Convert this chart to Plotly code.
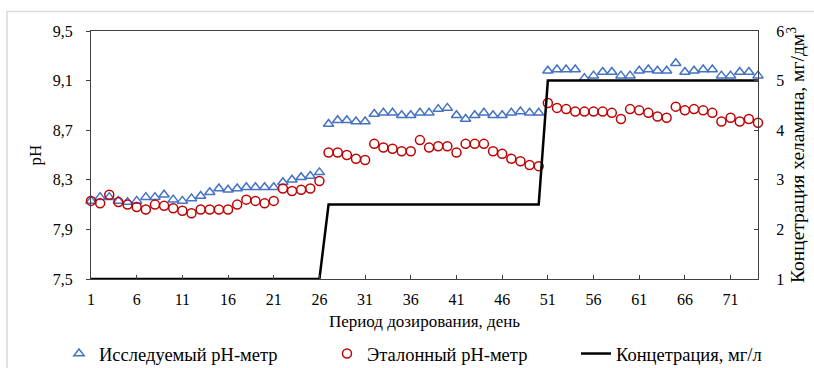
import plotly.graph_objects as go

days = list(range(1, 75))

ph_test = [
    8.13, 8.16, 8.16, 8.13, 8.12, 8.13, 8.16, 8.16, 8.18, 8.14,
    8.13, 8.15, 8.17, 8.20, 8.23, 8.22, 8.23, 8.24, 8.24, 8.24,
    8.24, 8.28, 8.30, 8.32, 8.33, 8.36, 8.75, 8.78, 8.78, 8.77,
    8.77, 8.83, 8.84, 8.84, 8.82, 8.82, 8.84, 8.84, 8.87, 8.88,
    8.82, 8.79, 8.82, 8.84, 8.82, 8.82, 8.84, 8.85, 8.84, 8.84,
    9.18, 9.19, 9.19, 9.19, 9.12, 9.14, 9.17, 9.17, 9.14, 9.14,
    9.18, 9.19, 9.18, 9.18, 9.24, 9.17, 9.18, 9.19, 9.19, 9.14,
    9.14, 9.17, 9.17, 9.14,
]

ph_ref = [
    8.13, 8.11, 8.18, 8.12, 8.10, 8.08, 8.06, 8.10, 8.09, 8.07,
    8.05, 8.03, 8.06, 8.06, 8.06, 8.06, 8.10, 8.14, 8.13, 8.11,
    8.13, 8.23, 8.21, 8.22, 8.23, 8.29, 8.52, 8.52, 8.50, 8.47,
    8.46, 8.59, 8.56, 8.55, 8.53, 8.53, 8.62, 8.56, 8.57, 8.57,
    8.52, 8.59, 8.59, 8.59, 8.53, 8.51, 8.47, 8.45, 8.42, 8.41,
    8.92, 8.88, 8.87, 8.85, 8.85, 8.85, 8.85, 8.84, 8.79, 8.87,
    8.86, 8.84, 8.81, 8.80, 8.89, 8.86, 8.87, 8.86, 8.84, 8.77,
    8.80, 8.77, 8.79, 8.76,
]

conc = [1.0] * 26 + [2.5] * 24 + [5.0] * 24

x_ticks = [1, 6, 11, 16, 21, 26, 31, 36, 41, 46, 51, 56, 61, 66, 71]
ph_ticks = [7.5, 7.9, 8.3, 8.7, 9.1, 9.5]
conc_ticks = [1, 2, 3, 4, 5, 6]

names = ["Исследуемый pH-метр", "Эталонный pH-метр", "Концетрация, мг/л"]
x_title = "Период дозирования, день"
y_title = "pH"
y2_title = "Концетрация хеламина, мг/дм<sup>3</sup>"

FONT = "Liberation Serif"
AX = "#404040"

fig = go.Figure()
fig.add_trace(go.Scatter(
    x=days, y=ph_test, mode="markers", name=names[0], legend="legend",
    marker=dict(symbol="triangle-up-open", size=9, color="#4472C4",
                line=dict(width=1.5, color="#4472C4")),
    cliponaxis=False, showlegend=True,
))
fig.add_trace(go.Scatter(
    x=days, y=ph_ref, mode="markers", name=names[1], legend="legend2",
    marker=dict(symbol="circle-open", size=9, color="#C00000",
                line=dict(width=1.5, color="#C00000")),
    cliponaxis=False, showlegend=True,
))
fig.add_trace(go.Scatter(
    x=days, y=conc, mode="lines", name=names[2], legend="legend3",
    yaxis="y2", line=dict(color="black", width=2.5),
    cliponaxis=False, showlegend=True,
))

W, H = 814, 368
legend_common = dict(
    orientation="h", xref="container", yref="container",
    yanchor="middle", y=1 - 354 / H, xanchor="left",
    font=dict(family=FONT, size=18.5, color="black"),
    bgcolor="rgba(0,0,0,0)", borderwidth=0, itemwidth=30, visible=True,
)

fig.update_layout(
    width=W, height=H,
    showlegend=True,
    margin=dict(l=91, r=56, t=31, b=89, autoexpand=False),
    paper_bgcolor="white", plot_bgcolor="white",
    separators=", ",
    font=dict(family=FONT, size=16, color="black"),
    xaxis=dict(
        range=[1, 74], tickvals=x_ticks, ticks="inside", ticklen=4,
        tickcolor=AX, showline=True, linecolor=AX, linewidth=1, mirror=True,
        showgrid=False, zeroline=False, ticklabelstandoff=6, automargin=False,
        title=dict(text=x_title, standoff=7, font=dict(size=17)),
        tickfont=dict(size=16),
    ),
    yaxis=dict(
        range=[7.5, 9.5], tickvals=ph_ticks, tickformat=".1f",
        ticks="outside", ticklen=4, tickcolor=AX,
        showline=True, linecolor=AX, linewidth=1, mirror=True,
        showgrid=False, zeroline=False, ticklabelstandoff=10, automargin=False,
        title=dict(text=y_title, standoff=6, font=dict(size=17)),
        tickfont=dict(size=16),
    ),
    yaxis2=dict(
        overlaying="y", side="right", range=[1, 6], tickvals=conc_ticks,
        ticks="inside", ticklen=4, tickcolor=AX,
        showline=True, linecolor=AX, linewidth=1,
        showgrid=False, zeroline=False, ticklabelstandoff=14, automargin=False,
        title=dict(text=y2_title, standoff=3, font=dict(size=19.5)),
        tickfont=dict(size=16),
    ),
    legend=dict(x=59 / W, **legend_common),
    legend2=dict(x=327 / W, **legend_common),
    legend3=dict(x=576 / W, **legend_common),
    shapes=[dict(type="rect", xref="paper", yref="paper",
                 x0=-0.126, x1=1.3, y0=-0.6, y1=1.0785,
                 line=dict(color="#D9D9D9", width=1.5), layer="below")],
)

fig.write_html("out.html")
